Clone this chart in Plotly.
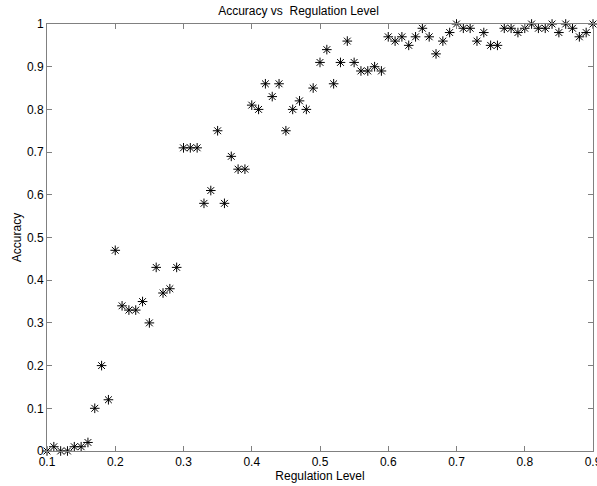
import plotly.graph_objects as go

# Regulation level sweep and measured accuracy at each level
regulation_level = [round(0.10 + 0.01 * i, 2) for i in range(81)]
accuracy = [
    0.00, 0.01, 0.00, 0.00, 0.01, 0.01, 0.02, 0.10, 0.20, 0.12,
    0.47, 0.34, 0.33, 0.33, 0.35, 0.30, 0.43, 0.37, 0.38, 0.43,
    0.71, 0.71, 0.71, 0.58, 0.61, 0.75, 0.58, 0.69, 0.66, 0.66,
    0.81, 0.80, 0.86, 0.83, 0.86, 0.75, 0.80, 0.82, 0.80, 0.85,
    0.91, 0.94, 0.86, 0.91, 0.96, 0.91, 0.89, 0.89, 0.90, 0.89,
    0.97, 0.96, 0.97, 0.95, 0.97, 0.99, 0.97, 0.93, 0.96, 0.98,
    1.00, 0.99, 0.99, 0.96, 0.98, 0.95, 0.95, 0.99, 0.99, 0.98,
    0.99, 1.00, 0.99, 0.99, 1.00, 0.98, 1.00, 0.99, 0.97, 0.98,
    1.00,
]
x_ticks = [0.1, 0.2, 0.3, 0.4, 0.5, 0.6, 0.7, 0.8, 0.9]
x_tick_labels = ["0.1", "0.2", "0.3", "0.4", "0.5", "0.6", "0.7", "0.8", "0.9"]
y_ticks = [0, 0.1, 0.2, 0.3, 0.4, 0.5, 0.6, 0.7, 0.8, 0.9, 1]
y_tick_labels = ["0", "0.1", "0.2", "0.3", "0.4", "0.5", "0.6", "0.7", "0.8", "0.9", "1"]

font_family = "Liberation Sans, Arial, sans-serif"
axis_color = "#808080"

fig = go.Figure(
    go.Scatter(
        x=regulation_level,
        y=accuracy,
        mode="markers",
        marker=dict(
            symbol="asterisk-open",
            size=8,
            color="#000000",
            line=dict(color="#000000", width=1),
        ),
        cliponaxis=False,
        showlegend=False,
    )
)

axis_common = dict(
    showgrid=False,
    zeroline=False,
    showline=True,
    linecolor=axis_color,
    linewidth=1,
    mirror="ticks",
    ticks="inside",
    ticklen=5,
    tickcolor=axis_color,
    automargin=False,
    ticklabeloverflow="allow",
    tickfont=dict(family=font_family, size=12, color="#000000"),
)

fig.update_layout(
    width=597,
    height=486,
    margin=dict(l=47, r=4, t=24, b=35),
    paper_bgcolor="white",
    plot_bgcolor="white",
    font=dict(family=font_family, size=12, color="#000000"),
    title=dict(
        text="Accuracy vs  Regulation Level",
        x=0.5,
        xanchor="center",
        y=0.978,
        yanchor="middle",
        font=dict(family=font_family, size=12, color="#000000"),
    ),
    xaxis=dict(
        range=[0.1, 0.9],
        tickvals=x_ticks,
        ticktext=x_tick_labels,
        title=dict(text="Regulation Level", standoff=2,
                   font=dict(family=font_family, size=12)),
        **axis_common,
    ),
    yaxis=dict(
        range=[0, 1],
        tickvals=y_ticks,
        ticktext=y_tick_labels,
        title=dict(text="Accuracy", standoff=2,
                   font=dict(family=font_family, size=12)),
        **axis_common,
    ),
)

fig.write_html("out.html")
